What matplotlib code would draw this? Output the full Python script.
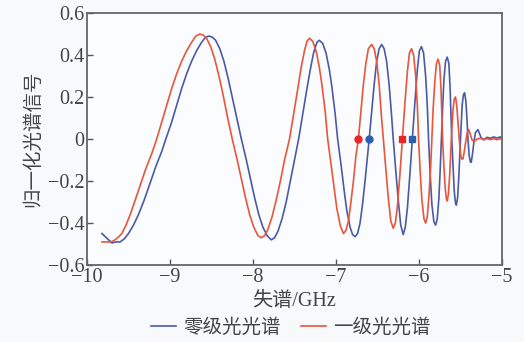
import numpy as np
import matplotlib
matplotlib.use('Agg')
import matplotlib.pyplot as plt
from matplotlib.ticker import FuncFormatter

# 零级光光谱 (blue) - (detuning GHz, signal)
blue_pts = [
    (-9.82, -0.45), (-9.78, -0.465), (-9.74, -0.48), (-9.70, -0.495), (-9.65, -0.49),
    (-9.60, -0.49), (-9.55, -0.475), (-9.50, -0.45), (-9.44, -0.41), (-9.38, -0.36),
    (-9.31, -0.29), (-9.24, -0.21), (-9.17, -0.13), (-9.10, -0.06), (-9.05, 0.0),
    (-8.98, 0.08), (-8.92, 0.16), (-8.86, 0.24), (-8.80, 0.31), (-8.74, 0.37),
    (-8.68, 0.42), (-8.62, 0.46), (-8.57, 0.485), (-8.53, 0.49),
    (-8.49, 0.485), (-8.45, 0.47), (-8.40, 0.43), (-8.35, 0.37), (-8.30, 0.29),
    (-8.25, 0.20), (-8.20, 0.11), (-8.14, 0.0), (-8.08, -0.10), (-8.03, -0.19),
    (-7.98, -0.28), (-7.93, -0.36), (-7.88, -0.42), (-7.83, -0.46), (-7.78, -0.48),
    (-7.74, -0.47), (-7.70, -0.44), (-7.65, -0.38), (-7.60, -0.30), (-7.55, -0.20),
    (-7.50, -0.10), (-7.45, 0.0), (-7.40, 0.12), (-7.35, 0.24), (-7.31, 0.33),
    (-7.27, 0.41), (-7.23, 0.46), (-7.20, 0.47),
    (-7.16, 0.455), (-7.12, 0.41), (-7.08, 0.33), (-7.05, 0.25), (-7.01, 0.12),
    (-6.98, 0.0), (-6.94, -0.12), (-6.90, -0.25), (-6.87, -0.34), (-6.83, -0.42),
    (-6.80, -0.455), (-6.77, -0.465),
    (-6.74, -0.45), (-6.71, -0.40), (-6.68, -0.31), (-6.65, -0.20), (-6.62, -0.08),
    (-6.60, 0.0), (-6.57, 0.13), (-6.54, 0.26), (-6.51, 0.37), (-6.48, 0.43), (-6.45, 0.45),
    (-6.42, 0.43), (-6.39, 0.37), (-6.36, 0.26), (-6.33, 0.11), (-6.31, 0.0),
    (-6.28, -0.15), (-6.25, -0.29), (-6.22, -0.41), (-6.19, -0.455),
    (-6.165, -0.42), (-6.14, -0.33), (-6.11, -0.17), (-6.08, 0.0), (-6.05, 0.17),
    (-6.02, 0.33), (-5.995, 0.42), (-5.97, 0.44),
    (-5.945, 0.41), (-5.92, 0.30), (-5.90, 0.16), (-5.885, 0.0), (-5.865, -0.17),
    (-5.845, -0.31), (-5.82, -0.395), (-5.80, -0.41),
    (-5.78, -0.38), (-5.76, -0.28), (-5.745, -0.15), (-5.73, 0.0), (-5.715, 0.15),
    (-5.70, 0.28), (-5.68, 0.37), (-5.66, 0.39),
    (-5.64, 0.36), (-5.625, 0.24), (-5.615, 0.12), (-5.605, 0.0), (-5.59, -0.13),
    (-5.575, -0.25), (-5.56, -0.305), (-5.55, -0.315),
    (-5.535, -0.28), (-5.52, -0.18), (-5.50, 0.0), (-5.48, 0.16), (-5.465, 0.21), (-5.45, 0.22),
    (-5.435, 0.18), (-5.42, 0.08), (-5.41, 0.0), (-5.395, -0.08), (-5.38, -0.11), (-5.37, -0.11),
    (-5.355, -0.07), (-5.34, -0.02), (-5.32, 0.03), (-5.29, 0.045), (-5.27, 0.025),
    (-5.25, 0.005), (-5.22, -0.003), (-5.18, 0.008), (-5.14, 0.004), (-5.10, 0.01),
    (-5.06, 0.005), (-5.02, 0.01), (-5.00, 0.006),
]

# 一级光光谱 (red)
red_pts = [
    (-9.82, -0.49), (-9.77, -0.49), (-9.72, -0.49), (-9.68, -0.485), (-9.63, -0.47),
    (-9.58, -0.45), (-9.53, -0.41), (-9.47, -0.35), (-9.41, -0.28), (-9.35, -0.21),
    (-9.29, -0.14), (-9.22, -0.07), (-9.16, 0.0), (-9.10, 0.08), (-9.04, 0.16),
    (-8.98, 0.24), (-8.92, 0.31), (-8.86, 0.37), (-8.80, 0.42), (-8.74, 0.46),
    (-8.69, 0.49), (-8.64, 0.50),
    (-8.60, 0.495), (-8.56, 0.48), (-8.51, 0.44), (-8.46, 0.38), (-8.41, 0.30),
    (-8.36, 0.21), (-8.31, 0.11), (-8.25, 0.0), (-8.19, -0.10), (-8.14, -0.19),
    (-8.09, -0.28), (-8.04, -0.36), (-7.99, -0.42), (-7.94, -0.46), (-7.90, -0.47),
    (-7.86, -0.46), (-7.82, -0.43), (-7.77, -0.37), (-7.72, -0.29), (-7.67, -0.20),
    (-7.62, -0.10), (-7.56, 0.0), (-7.51, 0.12), (-7.46, 0.24), (-7.42, 0.34),
    (-7.38, 0.42), (-7.35, 0.465), (-7.32, 0.48),
    (-7.28, 0.465), (-7.24, 0.42), (-7.20, 0.34), (-7.17, 0.26), (-7.13, 0.13),
    (-7.10, 0.0), (-7.06, -0.12), (-7.02, -0.24), (-6.99, -0.33), (-6.95, -0.41),
    (-6.92, -0.44), (-6.91, -0.45),
    (-6.88, -0.435), (-6.85, -0.39), (-6.82, -0.30), (-6.79, -0.20), (-6.76, -0.08),
    (-6.73, 0.0), (-6.70, 0.13), (-6.67, 0.26), (-6.64, 0.36), (-6.61, 0.43), (-6.57, 0.45),
    (-6.54, 0.43), (-6.51, 0.37), (-6.48, 0.26), (-6.455, 0.12), (-6.43, 0.0),
    (-6.40, -0.14), (-6.37, -0.28), (-6.34, -0.39), (-6.31, -0.425),
    (-6.285, -0.40), (-6.26, -0.32), (-6.23, -0.17), (-6.20, 0.0), (-6.17, 0.17),
    (-6.14, 0.32), (-6.115, 0.41), (-6.09, 0.43),
    (-6.065, 0.40), (-6.04, 0.30), (-6.02, 0.16), (-6.005, 0.0), (-5.985, -0.16),
    (-5.965, -0.29), (-5.94, -0.38), (-5.92, -0.40),
    (-5.90, -0.37), (-5.88, -0.27), (-5.86, -0.14), (-5.845, 0.0), (-5.83, 0.14),
    (-5.81, 0.27), (-5.79, 0.36), (-5.77, 0.38),
    (-5.75, 0.35), (-5.735, 0.24), (-5.725, 0.12), (-5.715, 0.0), (-5.70, -0.13),
    (-5.685, -0.23), (-5.67, -0.285), (-5.66, -0.295),
    (-5.645, -0.26), (-5.63, -0.17), (-5.61, 0.0), (-5.59, 0.14), (-5.575, 0.19), (-5.56, 0.20),
    (-5.545, 0.16), (-5.53, 0.08), (-5.515, 0.0), (-5.50, -0.07), (-5.485, -0.095), (-5.47, -0.095),
    (-5.455, -0.06), (-5.44, -0.02), (-5.42, 0.03), (-5.40, 0.045), (-5.38, 0.02),
    (-5.36, -0.005), (-5.33, -0.01), (-5.30, 0.0), (-5.26, 0.004), (-5.22, -0.004),
    (-5.18, 0.002), (-5.14, -0.003), (-5.10, 0.002), (-5.06, -0.003), (-5.02, 0.001),
    (-5.00, 0.0),
]

# zero-crossing markers
red_circle = (-6.73, 0.0)
blue_circle = (-6.60, 0.0)
red_square = (-6.20, 0.0)
blue_square = (-6.08, 0.0)

xticks = [-10, -9, -8, -7, -6, -5]
yticks = [-0.6, -0.4, -0.2, 0, 0.2, 0.4, 0.6]

c_blue = '#4b5aa6'
c_red = '#e9553d'
fam = ['Liberation Serif', 'Noto Sans CJK SC']

fig = plt.figure(figsize=(5.24, 3.42), dpi=100, facecolor='#f8f9fb')
ax = fig.add_axes([0.166, 0.225, 0.792, 0.737])
ax.set_facecolor('#fbfcfd')

bx, by = zip(*blue_pts)
rx, ry = zip(*red_pts)
l1, = ax.plot(bx, by, color=c_blue, lw=1.2, label='零级光光谱')
l2, = ax.plot(rx, ry, color=c_red, lw=1.2, label='一级光光谱')
ax.plot(*red_circle, 'o', color='#e8262a', ms=5)
ax.plot(*blue_circle, 'o', color='#2a5fb0', ms=5)
ax.plot(*red_square, 's', color='#e8262a', ms=4.5)
ax.plot(*blue_square, 's', color='#2a5fb0', ms=4.5)

ax.set_xlim(-10, -5)
ax.set_ylim(-0.6, 0.6)
ax.set_xticks(xticks)
ax.set_yticks(yticks)

def fmt(v, pos):
    s = ('%g' % round(v, 2))
    return s.replace('-', '\u2212')

ax.xaxis.set_major_formatter(FuncFormatter(fmt))
ax.yaxis.set_major_formatter(FuncFormatter(fmt))
ax.tick_params(direction='in', length=4, width=1, colors='#555555',
               labelcolor='#444444', labelsize=14.5, pad=2)
for lab in ax.get_xticklabels() + ax.get_yticklabels():
    lab.set_family(fam)
for sp in ax.spines.values():
    sp.set_color('#666666')
    sp.set_linewidth(1.3)

ax.set_xlabel('失谱/GHz', family=fam, fontsize=14.5, color='#444444', labelpad=4)
ax.set_ylabel('归一化光谱信号', family=fam, fontsize=14, color='#444444', labelpad=4)

leg = fig.legend(handles=[l1, l2], loc='lower center', bbox_to_anchor=(0.555, -0.035),
                 ncol=2, frameon=False, handlelength=1.3, columnspacing=1.0,
                 handletextpad=0.4, prop={'family': fam, 'size': 14})
for t in leg.get_texts():
    t.set_color('#444444')

plt.savefig('out.png', dpi=100, facecolor=fig.get_facecolor())
